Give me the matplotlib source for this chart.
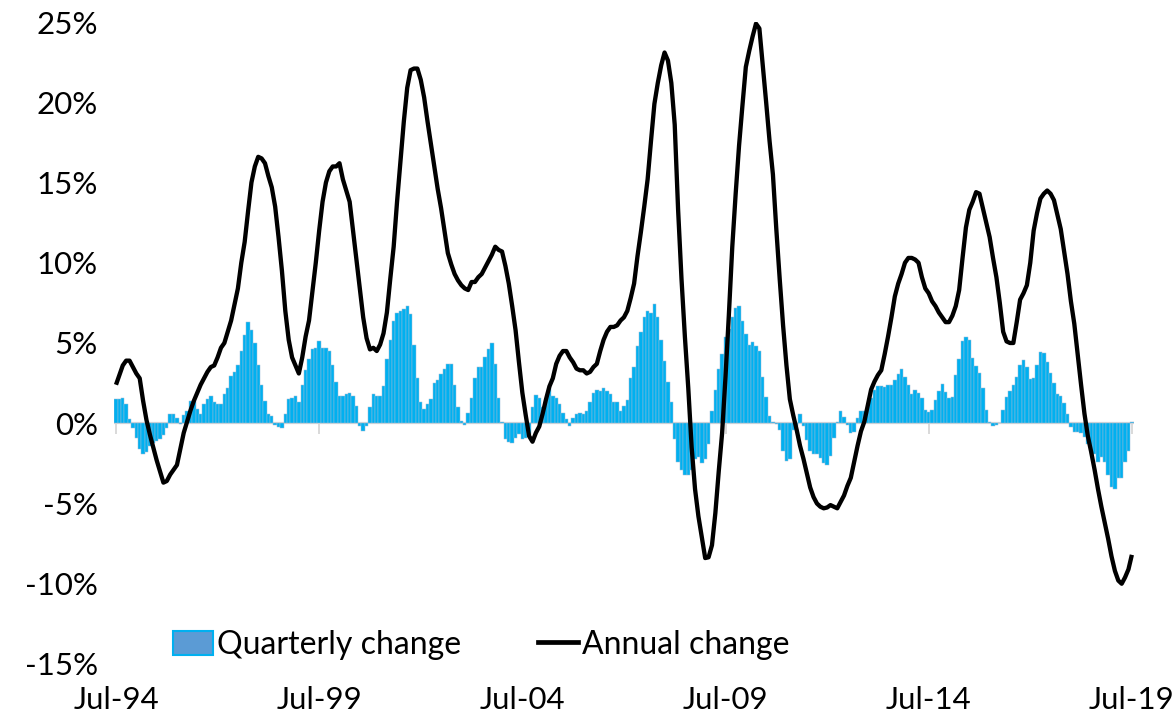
import matplotlib
matplotlib.use("Agg")
import matplotlib.pyplot as plt
from matplotlib.patches import Patch
from matplotlib.lines import Line2D
import numpy as np

plt.rcParams['font.family'] = ['Lato', 'DejaVu Sans']

# Monthly data, Jul-94 .. Jul-19 (301 months)
quarterly_change = [
    1.5, 1.5, 1.55, 1.2, 0.25, -0.3, -0.9, -1.6, -1.9, -1.8,
    -1.4, -1.2, -1.1, -1.0, -0.75, -0.3, 0.55, 0.55, 0.3, -0.05,
    0.5, 0.75, 1.4, 1.4, 0.9, 0.6, 1.2, 1.5, 1.7, 1.3,
    1.2, 1.2, 1.8, 2.2, 2.95, 3.2, 3.6, 4.5, 5.5, 6.3,
    5.8, 5.0, 3.6, 2.4, 1.4, 0.55, 0.45, -0.1, -0.25, -0.3,
    0.55, 1.5, 1.6, 1.7, 1.3, 2.4, 3.3, 4.0, 4.6, 4.7,
    5.1, 4.7, 4.7, 4.5, 3.6, 2.6, 1.7, 1.7, 1.8, 1.9,
    1.7, 1.1, -0.15, -0.5, -0.2, 1.0, 1.8, 1.7, 1.7, 2.3,
    4.0, 5.2, 6.4, 6.9, 7.0, 7.1, 7.3, 6.8, 4.9, 2.85,
    1.3, 0.9, 1.2, 1.5, 2.5, 2.7, 3.05, 3.4, 3.7, 3.7,
    2.4, 1.0, 0.15, -0.1, 0.65, 1.6, 2.85, 3.5, 3.5, 4.1,
    4.6, 5.0, 3.7, 1.6, 0.1, -1.0, -1.15, -1.25, -0.9, -0.65,
    -1.0, -0.95, -0.7, 1.0, 1.75, 1.6, 1.0, 1.4, 2.3, 1.7,
    1.6, 1.2, 0.65, 0.25, -0.15, 0.35, 0.55, 0.65, 0.55, 0.75,
    1.35, 1.9, 2.05, 2.0, 2.2, 2.0, 1.8, 1.3, 1.3, 0.75,
    1.1, 1.45, 2.85, 3.5, 4.8, 5.7, 6.6, 7.0, 6.9, 7.4,
    6.6, 5.2, 3.9, 2.6, 1.3, -1.0, -2.4, -2.9, -3.2, -3.2,
    -2.9, -2.2, -2.1, -2.5, -2.2, -1.3, 0.77, 2.1, 3.4, 4.3,
    5.4, 5.9, 6.6, 7.2, 7.3, 6.4, 5.55, 4.9, 5.05, 4.8,
    4.5, 2.9, 1.65, 0.45, 0.05, -0.07, -0.4, -1.75, -2.35, -2.2,
    -0.4, -0.2, 0.6, -0.2, -1.05, -1.75, -1.9, -1.93, -2.14, -2.45,
    -2.6, -2.04, -0.9, 0.1, 0.77, 0.4, -0.1, -0.58, -0.52, 0.3,
    0.77, 0.77, 0.77, 1.6, 2.1, 2.3, 2.3, 2.25, 2.4, 2.4,
    2.7, 3.05, 3.35, 2.9, 2.4, 1.85, 2.05, 1.9, 1.55, 0.8,
    0.67, 0.8, 1.45, 2.0, 2.45, 1.95, 1.55, 1.65, 3.0, 4.0,
    5.15, 5.4, 5.2, 4.05, 3.55, 3.15, 2.2, 0.8, 0.1, -0.15,
    -0.1, 0.0, 0.8, 1.65, 2.0, 2.4, 2.9, 3.65, 3.95, 3.5,
    2.75, 2.8, 3.6, 4.45, 4.4, 3.8, 3.1, 2.5, 1.8, 1.7,
    1.25, 0.6, -0.25, -0.56, -0.52, -0.62, -0.87, -1.3, -1.9, -1.9,
    -2.4, -2.1, -2.4, -3.2, -4.0, -4.1, -3.4, -3.4, -2.4, -1.7,
    0.1,
]

annual_change = [
    2.4, 3.0, 3.6, 3.9, 3.9, 3.5, 3.1, 2.8, 1.4, 0.2,
    -0.7, -1.5, -2.3, -3.0, -3.7, -3.6, -3.2, -2.9, -2.6, -1.6,
    -0.6, 0.1, 0.8, 1.4, 1.9, 2.4, 2.8, 3.2, 3.5, 3.6,
    4.1, 4.7, 5.0, 5.7, 6.4, 7.4, 8.4, 10.0, 11.3, 13.2,
    15.0, 16.0, 16.6, 16.5, 16.2, 15.4, 14.7, 13.5, 11.6, 9.5,
    7.0, 5.2, 4.1, 3.6, 3.1, 4.1, 5.4, 6.4, 8.2, 10.0,
    12.0, 13.8, 15.0, 15.7, 16.0, 16.0, 16.2, 15.2, 14.5, 13.8,
    12.0, 10.2, 8.4, 6.6, 5.3, 4.6, 4.7, 4.5, 4.9, 5.6,
    6.9, 9.0, 11.0, 13.8, 16.3, 18.8, 20.9, 22.0, 22.1, 22.1,
    21.4, 20.3, 18.8, 17.4, 16.0, 14.6, 13.4, 12.0, 10.6, 9.9,
    9.3, 8.9, 8.6, 8.4, 8.3, 8.8, 8.8, 9.1, 9.3, 9.7,
    10.1, 10.5, 11.0, 10.8, 10.7, 9.8, 8.7, 7.3, 5.8, 3.8,
    1.9, 0.5, -0.8, -1.15, -0.6, -0.2, 0.6, 1.5, 2.3, 2.8,
    3.7, 4.2, 4.5, 4.5, 4.1, 3.8, 3.4, 3.3, 3.3, 3.1,
    3.2, 3.5, 3.7, 4.5, 5.2, 5.7, 6.0, 6.0, 6.1, 6.4,
    6.6, 7.0, 7.8, 8.7, 10.4, 11.9, 13.5, 15.2, 17.6, 19.9,
    21.2, 22.3, 23.1, 22.6, 21.2, 18.6, 13.3, 9.0, 5.4, 2.2,
    -1.5, -4.1, -5.8, -7.1, -8.4, -8.35, -7.6, -5.6, -3.0, -0.6,
    2.9, 6.8, 11.0, 14.3, 17.3, 19.8, 22.2, 23.2, 24.1, 24.9,
    24.6, 22.3, 20.0, 17.6, 15.5, 12.1, 9.0, 6.1, 3.6, 1.5,
    0.5, -0.4, -1.4, -2.2, -3.1, -4.0, -4.6, -5.0, -5.2, -5.3,
    -5.25, -5.1, -5.2, -5.3, -4.9, -4.5, -3.9, -3.4, -2.4, -1.4,
    -0.5, 0.1, 1.1, 2.1, 2.6, 3.0, 3.3, 4.3, 5.4, 6.6,
    7.9, 8.7, 9.3, 10.0, 10.3, 10.3, 10.2, 10.0, 9.1, 8.4,
    8.1, 7.6, 7.3, 6.9, 6.6, 6.3, 6.3, 6.7, 7.3, 8.3,
    10.3, 12.2, 13.3, 13.8, 14.4, 14.3, 13.4, 12.5, 11.6, 10.3,
    9.1, 7.5, 5.7, 5.1, 5.0, 5.0, 6.3, 7.7, 8.1, 8.6,
    10.0, 12.0, 13.1, 14.0, 14.3, 14.5, 14.3, 13.9, 13.0, 12.1,
    10.7, 9.3, 7.6, 6.2, 4.3, 2.4, 0.6, -0.8, -1.8, -2.9,
    -4.1, -5.2, -6.2, -7.2, -8.3, -9.2, -9.8, -10.0, -9.6, -9.1,
    -8.2,
]

tick_labels = ["Jul-94", "Jul-99", "Jul-04", "Jul-09", "Jul-14", "Jul-19"]
tick_months = [0, 60, 120, 180, 240, 300]
y_ticks = [-15, -10, -5, 0, 5, 10, 15, 20, 25]

x = np.arange(len(quarterly_change))

fig = plt.figure(figsize=(11.76, 7.24), dpi=100)
ax = fig.add_axes([0.0972, 0.0829, 0.8667, 0.8867])

# zero axis line with small ticks
ax.axhline(0, color='#D9D9D9', lw=1.6, zorder=1)
for t in tick_months:
    ax.plot([t, t], [0, -0.62], color='#D9D9D9', lw=1.4, zorder=1)

ax.bar(x, quarterly_change, width=1.0, color='#00B0F0',
       edgecolor='#9CBCD6', linewidth=0.35, zorder=2)
ax.plot(x, annual_change, color='black', lw=3.1, zorder=3,
        solid_joinstyle='round', solid_capstyle='butt')

ax.set_xlim(-0.5, 300.5)
ax.set_ylim(-15, 25)
ax.set_yticks(y_ticks)
ax.set_yticklabels([f"{v}%" for v in y_ticks])
ax.set_xticks(tick_months)
ax.set_xticklabels(tick_labels)
ax.tick_params(axis='y', length=0, pad=12, labelsize=22.5)
ax.tick_params(axis='x', length=0, pad=16, labelsize=22.5)
for s in ax.spines.values():
    s.set_visible(False)

handles = [Patch(facecolor='#5B9BD5', edgecolor='#00B0F0', linewidth=1.5),
           Line2D([0], [0], color='black', lw=3.4)]
fig.legend(handles, ["Quarterly change", "Annual change"],
           loc='center', bbox_to_anchor=(0.409, 0.109), ncol=2,
           frameon=False, fontsize=23, handlelength=1.25,
           handleheight=0.8, handletextpad=0.13, columnspacing=2.4,
           borderpad=0, borderaxespad=0)

fig.savefig("out.png", dpi=100)
